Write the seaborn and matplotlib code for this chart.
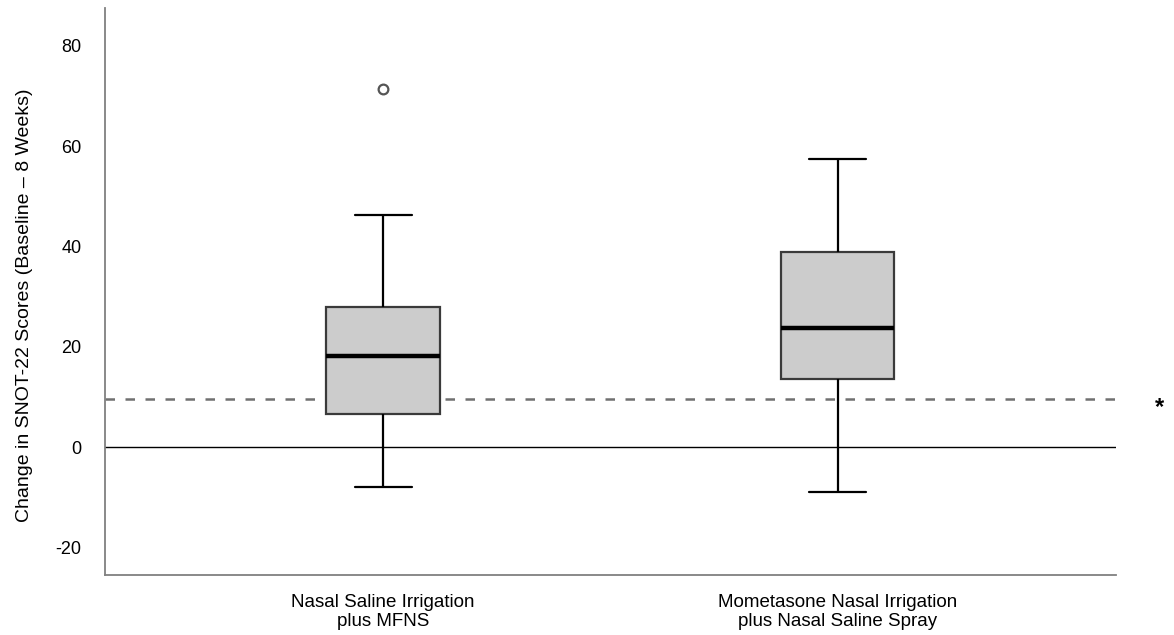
import matplotlib
matplotlib.use("Agg")
import matplotlib.pyplot as plt
import pandas as pd
import seaborn as sns

# Values.
# Points are chosen so the quartiles / whiskers / outlier land on the read values.
groups = ["Nasal Saline Irrigation\nplus MFNS",
          "Mometasone Nasal Irrigation\nplus Nasal Saline Spray"]
saline_mfns = [-8.0, 6.6, 6.6, 18.1, 18.1, 27.9, 27.9, 46.2, 71.5]
mometasone = [-9.0, 13.5, 23.7, 39.0, 57.4]
mcid_line = 9.6
y_ticks = [-20, 0, 20, 40, 60, 80]
y_label = "Change in SNOT-22 Scores (Baseline \u2013 8 Weeks)"

df = pd.DataFrame({
    "group": [groups[0]] * len(saline_mfns) + [groups[1]] * len(mometasone),
    "value": saline_mfns + mometasone,
})

sns.set_style("white")
plt.rcParams["font.family"] = ["Liberation Sans", "DejaVu Sans"]
plt.rcParams["axes.unicode_minus"] = False
plt.rcParams["text.color"] = "black"
plt.rcParams["axes.labelcolor"] = "black"
plt.rcParams["xtick.color"] = "black"
plt.rcParams["ytick.color"] = "black"

fig = plt.figure(figsize=(11.74, 6.35), dpi=100)
ax = fig.add_axes([0.0894, 0.0945, 0.861, 0.8925])

# reference lines behind the boxes
ax.axhline(0, color="black", linewidth=1.0, zorder=1)
ax.axhline(mcid_line, color="#707070", linewidth=1.8, linestyle=(0, (3.8, 4.2)), zorder=1)

sns.boxplot(data=df, x="group", y="value", order=groups, ax=ax,
            width=0.25, color="#cccccc", saturation=1, linecolor="black",
            linewidth=1.6,
            boxprops=dict(edgecolor="#3a3a3a", zorder=2),
            medianprops=dict(color="black", linewidth=3.2),
            flierprops=dict(marker="o", markersize=7, markerfacecolor="white",
                            markeredgecolor="#555555", markeredgewidth=1.6))

ax.set_xlim(-0.612, 1.612)
ax.set_ylim(-25.5, 87.5)
ax.set_yticks(y_ticks)
ax.set_xlabel("")
ax.set_ylabel(y_label, fontsize=14)
ax.yaxis.set_label_coords(-0.071, 0.476)

ax.tick_params(axis="y", length=0, pad=17, labelsize=13)
ax.tick_params(axis="x", length=0, pad=14, labelsize=13.5)
for lab in ax.get_xticklabels():
    lab.set_linespacing(1.13)

for side in ["top", "right"]:
    ax.spines[side].set_visible(False)
for side in ["left", "bottom"]:
    ax.spines[side].set_color("#808080")
    ax.spines[side].set_linewidth(1.3)

fig.text(0.988, 0.358, "*", fontsize=17, fontweight="bold", ha="center", va="center")

fig.savefig("out.png", dpi=100)
